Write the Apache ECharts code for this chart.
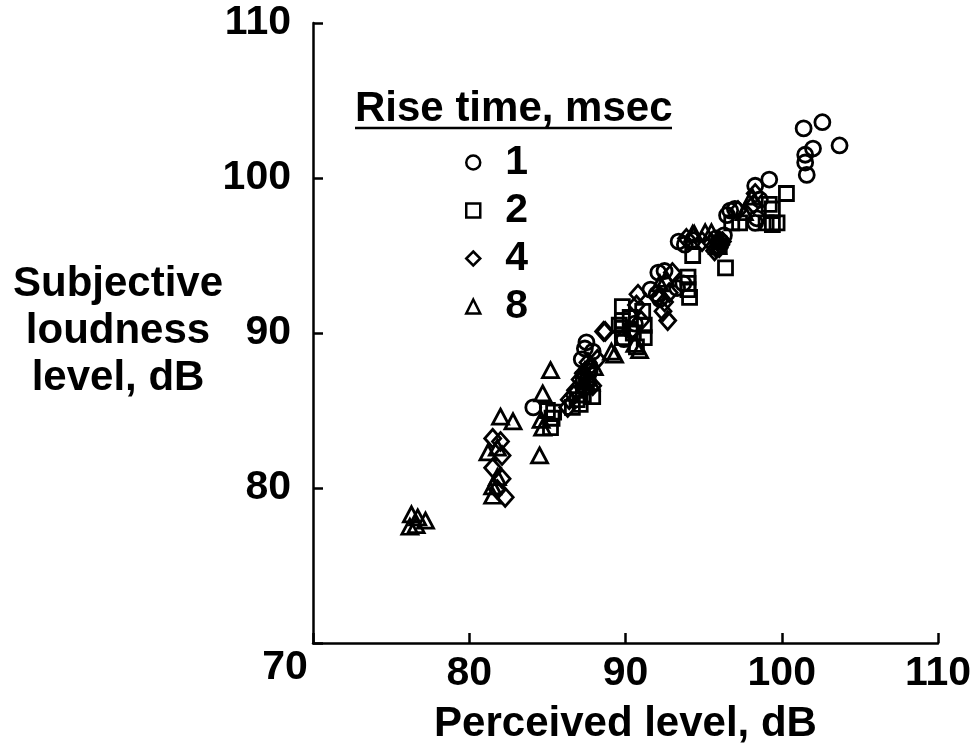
<!DOCTYPE html>
<html>
<head>
<meta charset="utf-8">
<script src="https://cdn.jsdelivr.net/npm/echarts@6/dist/echarts.min.js"></script>
<style>html,body{margin:0;padding:0;background:#fff;}#c{width:979px;height:752px;}</style>
</head>
<body>
<div id="c"></div>
<script>
// Perceived level (dB), Subjective loudness level (dB)
const rise1 = [
  [84.1,85.2],
  [87.5,89.4],[87.4,89.0],[87.9,88.8],[87.2,88.3],[87.7,87.5],
  [89.9,89.6],[90.3,90.2],[90.6,90.6],
  [91.6,92.8],[92.0,92.5],[92.1,93.9],[92.5,94.0],[92.2,92.2],
  [93.3,92.9],[93.7,93.2],
  [93.4,95.9],[93.8,95.7],[94.3,96.0],
  [95.8,96.1],[96.3,96.3],[96.1,95.9],
  [96.7,97.9],[96.5,97.6],[97.0,98.0],
  [98.3,97.1],[98.4,97.4],[98.6,98.6],[98.3,99.5],[99.2,99.9],
  [101.4,103.2],[102.6,103.6],[102.0,101.9],[103.7,102.1],[101.5,101.5],[101.5,101.0],[101.6,100.2]
];
const rise2 = [
  [85.0,85.0],[85.3,84.5],[85.2,83.9],[85.4,84.9],
  [86.6,85.2],[86.9,85.7],[87.3,86.0],[87.9,85.9],[87.1,85.4],[87.5,86.6],[87.6,87.3],[87.3,87.0],
  [89.6,90.5],[89.8,91.7],[89.8,90.8],[89.8,90.3],[89.8,89.7],[91.1,91.4],[91.2,90.5],[91.2,89.7],[90.7,89.1],[90.3,91.0],[90.5,90.0],
  [94.0,93.6],[94.0,93.2],[94.0,92.8],[94.1,92.3],[94.3,95.0],
  [96.4,94.2],[96.0,95.6],
  [96.8,97.1],[97.3,97.1],[99.0,97.1],[99.7,97.1],[99.2,98.3],[99.4,98.0],[100.3,99.0],[99.4,97.0]
];
const rise4 = [
  [81.5,83.2],[82.1,82.1],[81.5,81.3],[82.1,80.6],[82.3,79.4],[81.8,79.9],[82.0,83.0],
  [86.3,85.2],[86.4,85.7],[86.8,86.3],[87.1,87.0],[87.3,87.4],[87.6,88.1],[88.2,88.3],[88.6,90.1],[87.9,86.6],[86.7,86.0],[87.7,87.8],[87.4,86.4],
  [88.7,90.1],[90.7,91.8],[90.8,92.5],[90.5,90.2],[91.0,90.8],
  [92.1,92.3],[92.4,91.4],[92.7,90.8],[93.0,93.9],[92.5,92.0],[92.8,92.6],
  [93.9,96.1],[94.9,95.9],[95.8,95.5],[96.2,95.9],[96.0,95.5],[95.5,95.8],[95.7,95.3],[96.1,95.7],[95.9,95.9],
  [98.2,98.3],[98.3,99.0],[97.2,97.9]
];
const rise8 = [
  [76.3,78.3],[76.7,78.1],[77.2,77.9],[76.2,77.5],[76.6,77.6],
  [82.0,84.6],[82.8,84.3],[81.2,82.3],[81.8,82.6],[81.8,80.7],[81.5,80.1],[81.5,79.5],
  [84.5,82.1],[85.2,87.6],[84.7,86.1],[84.7,83.9],[84.6,84.4],
  [87.4,87.6],[87.6,87.1],[88.0,87.8],[87.8,86.8],
  [89.1,88.8],[89.3,88.6],[90.9,88.9],[90.6,89.3],
  [92.6,93.5],[92.2,93.2],
  [94.4,96.4],[95.1,96.5],[95.5,96.5],[94.3,96.4],[95.9,95.6],
  [97.6,97.8],[98.1,98.8]
];
const seriesNames = ['1','2','4','8'];
const seriesSymbols = ['circle','rect','diamond','triangle'];
const xTicks = [70,80,90,100,110];
const yTicks = [70,80,90,100,110];

const FONT = '"Liberation Sans", Arial, Helvetica, sans-serif';
const chart = echarts.init(document.getElementById('c'), null, {renderer:'canvas'});
const dataSets = [rise1, rise2, rise4, rise8];
const sizes = [15, 14, [16,18], [16,15]];

chart.setOption({
  animation: false,
  backgroundColor: '#fff',
  grid: {left: 313, top: 23, right: 41, bottom: 109, containLabel: false},
  xAxis: {
    type: 'value', min: xTicks[0], max: xTicks[xTicks.length-1], interval: 10,
    axisLine: {show: true, lineStyle: {color: '#000', width: 2.5}},
    axisTick: {show: true, inside: true, length: 10, lineStyle: {color: '#000', width: 2.5}},
    splitLine: {show: false},
    axisLabel: {
      margin: 10, color: '#000', fontFamily: FONT, fontWeight: 'bold', fontSize: 41,
      formatter: v => (v === 70 ? '' : String(v))
    },
    name: 'Perceived level, dB', nameLocation: 'middle', nameGap: 60,
    nameTextStyle: {color: '#000', fontFamily: FONT, fontWeight: 'bold', fontSize: 42}
  },
  yAxis: {
    type: 'value', min: yTicks[0], max: yTicks[yTicks.length-1], interval: 10,
    axisLine: {show: true, lineStyle: {color: '#000', width: 2.5}},
    axisTick: {show: true, inside: true, length: 10, lineStyle: {color: '#000', width: 2.5}},
    splitLine: {show: false},
    axisLabel: {
      margin: 22, color: '#000', fontFamily: FONT, fontWeight: 'bold', fontSize: 41,
      formatter: v => (v === 70 ? '' : String(v))
    }
  },
  legend: {
    orient: 'vertical', left: 460, top: 137, itemGap: 7,
    itemWidth: 14, itemHeight: 14,
    data: seriesNames.map((n, i) => ({name: n, icon: seriesSymbols[i]})),
    itemStyle: {color: 'rgba(0,0,0,0)', borderColor: '#000', borderWidth: 2.5},
    textStyle: {color: '#000', fontFamily: FONT, fontWeight: 'bold', fontSize: 41, lineHeight: 40, padding: [0,0,0,20]}
  },
  graphic: [
    {type: 'text', left: 355, top: 88, style: {text: 'Rise time, msec', fill: '#000', font: 'bold 42px ' + FONT}},
    {type: 'line', shape: {x1: 355, y1: 128, x2: 672, y2: 128}, style: {stroke: '#000', lineWidth: 2.5}},
    {type: 'text', x: 118, y: 331, style: {text: 'Subjective\nloudness\nlevel, dB', fill: '#000', font: 'bold 42px ' + FONT, align: 'center', verticalAlign: 'middle', lineHeight: 47}},
    {type: 'text', x: 285, y: 668, style: {text: '70', fill: '#000', font: 'bold 41px ' + FONT, align: 'center', verticalAlign: 'middle'}}
  ],
  series: dataSets.map((d, i) => ({
    type: 'scatter', name: seriesNames[i], data: d,
    symbol: seriesSymbols[i], symbolSize: sizes[i],
    itemStyle: {color: 'rgba(0,0,0,0)', borderColor: '#000', borderWidth: 2.8, opacity: 1},
    emphasis: {disabled: true}
  }))
});
</script>
</body>
</html>
